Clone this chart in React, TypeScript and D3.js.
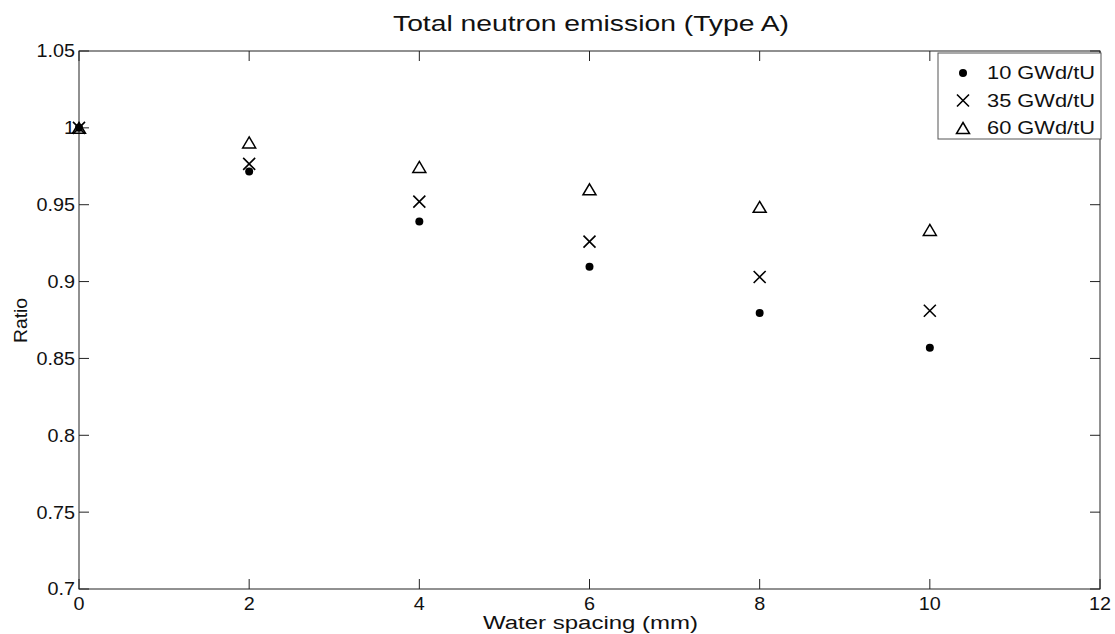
import React from "react";
import * as d3 from "d3";

const spacing = [0, 2, 4, 6, 8, 10];
const series10 = [1.0, 0.9716, 0.939, 0.9096, 0.8796, 0.857];
const series35 = [1.0, 0.9766, 0.952, 0.926, 0.903, 0.881];
const series60 = [1.0, 0.9905, 0.9746, 0.96, 0.9486, 0.9336];
const xTicks = [0, 2, 4, 6, 8, 10, 12];
const yTicks = [0.7, 0.75, 0.8, 0.85, 0.9, 0.95, 1.0, 1.05];
const yTickLabels = ["0.7", "0.75", "0.8", "0.85", "0.9", "0.95", "1", "1.05"];
const legendLabels = ["10 GWd/tU", "35 GWd/tU", "60 GWd/tU"];

const W = 1115, H = 634;
const L = 79, R = 1100, T = 51, B = 589;
const FONT = "'Liberation Sans', Arial, sans-serif";

function Marker({ kind, x, y }: { kind: string; x: number; y: number }) {
  if (kind === "dot") return <circle cx={x} cy={y} r={4} fill="#000" />;
  if (kind === "x") {
    const s = 6;
    return (
      <path d={`M${x - s},${y - s}L${x + s},${y + s}M${x - s},${y + s}L${x + s},${y - s}`} stroke="#000" strokeWidth={1.6} fill="none" />
    );
  }
  const w = 6.5, h = 5.5;
  return (
    <path d={`M${x},${y - h}L${x + w},${y + h}L${x - w},${y + h}Z`} stroke="#000" strokeWidth={1.5} fill="none" />
  );
}

export default function App() {
  const x = d3.scaleLinear().domain([0, 12]).range([L, R]);
  const y = d3.scaleLinear().domain([0.7, 1.05]).range([B, T]);
  const series = [
    { kind: "dot", vals: series10 },
    { kind: "x", vals: series35 },
    { kind: "tri", vals: series60 },
  ];
  const tl = 10;
  return (
    <svg width={W} height={H} style={{ position: "absolute", left: 0, top: 0, background: "#fff" }} fontFamily={FONT} fill="#111">
      <rect x={0} y={0} width={W} height={H} fill="#fff" />
      <text x={591} y={31} fontSize={22} textAnchor="middle" textLength={396} lengthAdjust="spacingAndGlyphs">Total neutron emission (Type A)</text>
      {xTicks.map((t) => (
        <g key={"xt" + t}>
          <line x1={x(t)} x2={x(t)} y1={B} y2={B - tl} stroke="#222" />
          <line x1={x(t)} x2={x(t)} y1={T} y2={T + tl} stroke="#222" />
          <text transform={`translate(${x(t)},610) scale(1.1,1)`} fontSize={18} textAnchor="middle">{t}</text>
        </g>
      ))}
      {yTicks.map((t, i) => (
        <g key={"yt" + t}>
          <line x1={L} x2={L + tl} y1={y(t)} y2={y(t)} stroke="#222" />
          <line x1={R} x2={R - tl} y1={y(t)} y2={y(t)} stroke="#222" />
          <text transform={`translate(75,${y(t)}) scale(1.1,1)`} dy="0.36em" fontSize={18} textAnchor="end">{yTickLabels[i]}</text>
        </g>
      ))}
      <rect x={L} y={T} width={R - L} height={B - T} fill="none" stroke="#222" strokeWidth={1} />
      <text x={590.5} y={629} fontSize={18} textAnchor="middle" textLength={215} lengthAdjust="spacingAndGlyphs">Water spacing (mm)</text>
      <text transform={`translate(27,320.5) rotate(-90)`} fontSize={19} textAnchor="middle" textLength={45} lengthAdjust="spacingAndGlyphs">Ratio</text>
      {series.map((s) =>
        s.vals.map((v, i) => <Marker key={s.kind + i} kind={s.kind} x={x(spacing[i])} y={y(v)} />)
      )}
      <rect x={938} y={53} width={163} height={86} fill="#fff" stroke="#555" strokeWidth={1} />
      {series.map((s, i) => (
        <g key={"lg" + i}>
          <Marker kind={s.kind} x={963} y={73 + i * 27.5} />
          <text x={987} y={73 + i * 27.5} dy="0.36em" fontSize={18} textLength={108} lengthAdjust="spacingAndGlyphs">{legendLabels[i]}</text>
        </g>
      ))}
    </svg>
  );
}
